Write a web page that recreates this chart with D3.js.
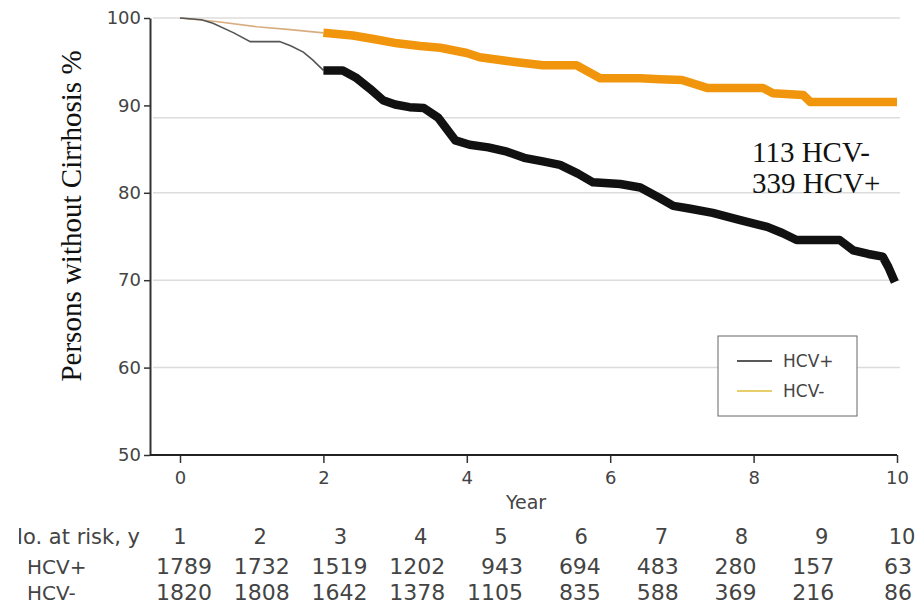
<!DOCTYPE html>
<html>
<head>
<meta charset="utf-8">
<script src="https://cdn.jsdelivr.net/npm/d3@7"></script>
<style>
  body { margin: 0; background: #fff; }
  svg { display: block; }
</style>
</head>
<body>
<svg></svg>
<script>
const w = 922;
const h = 604;

// Kaplan-Meier curves (year, % without cirrhosis)
const hcvPosYears = [0, 0.3, 0.46, 0.75, 0.98, 1.39, 1.55, 1.72, 1.85, 2.0, 2.27, 2.45, 2.65, 2.83, 3.0, 3.2, 3.4, 3.6, 3.84, 4.04, 4.3, 4.56, 4.8, 5.06, 5.3, 5.55, 5.76, 6.14, 6.42, 6.69, 6.88, 7.1, 7.43, 7.8, 8.19, 8.4, 8.6, 9.2, 9.39, 9.6, 9.8, 9.88, 9.97];
const hcvPosSurv = [100, 99.8, 99.4, 98.3, 97.3, 97.3, 96.8, 96.1, 95.2, 94.0, 94.0, 93.2, 91.9, 90.6, 90.1, 89.8, 89.7, 88.6, 86.0, 85.5, 85.2, 84.7, 84.0, 83.6, 83.2, 82.2, 81.2, 81.0, 80.6, 79.4, 78.5, 78.2, 77.7, 76.9, 76.1, 75.4, 74.6, 74.6, 73.4, 73.0, 72.7, 71.5, 69.8];
const hcvNegYears = [0, 0.5, 1.07, 1.5, 2.0, 2.41, 2.7, 3.03, 3.35, 3.63, 4.0, 4.18, 4.64, 5.06, 5.53, 5.86, 6.42, 6.69, 7.0, 7.35, 8.13, 8.27, 8.69, 8.79, 10.0];
const hcvNegSurv = [100, 99.6, 99.0, 98.7, 98.3, 98.0, 97.6, 97.1, 96.8, 96.6, 96.0, 95.5, 95.0, 94.6, 94.6, 93.1, 93.1, 93.0, 92.9, 92.0, 92.0, 91.4, 91.2, 90.4, 90.4];
const thinUntil = 2; // curves drawn thin before this year

const yTicks = [50, 60, 70, 80, 90, 100];
const gridValues = [100, 88.6, 80, 70, 60];
const xTicks = [0, 2, 4, 6, 8, 10];

// number at risk table
const riskYears = [1, 2, 3, 4, 5, 6, 7, 8, 9, 10];
const riskPos = [1789, 1732, 1519, 1202, 943, 694, 483, 280, 157, 63];
const riskNeg = [1820, 1808, 1642, 1378, 1105, 835, 588, 369, 216, 86];

const annotations = ['113 HCV-', '339 HCV+'];

const svg = d3.select('svg').attr('width', w).attr('height', h);

const xScale = d3.scaleLinear().domain([0, 10]).range([180, 897]);
const yScale = d3.scaleLinear().domain([50, 100]).range([455, 18]);
const axisLeftX = 150;

// gridlines
svg.append('g')
    .selectAll('line')
    .data(gridValues)
    .enter()
    .append('line')
    .attr('x1', axisLeftX + 3)
    .attr('x2', 900)
    .attr('y1', (d) => yScale(d))
    .attr('y2', (d) => yScale(d))
    .attr('stroke', '#dcdcdc')
    .attr('stroke-width', 1.5);

// axes
const yAxis = d3.axisLeft(yScale).tickValues(yTicks).tickSize(6).tickSizeOuter(0).tickPadding(3);
const xAxis = d3.axisBottom(xScale).tickValues(xTicks).tickSize(8).tickSizeOuter(0).tickPadding(8);

const gy = svg.append('g')
    .attr('transform', 'translate(' + axisLeftX + ',0)')
    .call(yAxis);
const gx = svg.append('g')
    .attr('transform', 'translate(0,' + yScale(50) + ')')
    .call(xAxis);

gx.select('.domain').remove();
svg.append('line')
    .attr('x1', axisLeftX)
    .attr('x2', xScale(10))
    .attr('y1', yScale(50))
    .attr('y2', yScale(50))
    .attr('stroke', '#222')
    .attr('stroke-width', 2);

[gy, gx].forEach((g) => {
    g.selectAll('.domain').attr('stroke', '#333').attr('stroke-width', 2);
    g.selectAll('.tick line').attr('stroke', '#333').attr('stroke-width', 1.5);
    g.selectAll('.tick text')
        .attr('fill', '#444')
        .style('font-family', 'DejaVu Sans')
        .style('font-size', '18px');
});

svg.append('text')
    .attr('x', 526)
    .attr('y', 509)
    .attr('text-anchor', 'middle')
    .attr('fill', '#444')
    .style('font-family', 'DejaVu Sans')
    .style('font-size', '19px')
    .text('Year');

svg.append('text')
    .attr('transform', 'translate(81,216) rotate(-90)')
    .attr('text-anchor', 'middle')
    .attr('fill', '#111')
    .style('font-family', 'Liberation Serif')
    .style('font-size', '29px')
    .text('Persons without Cirrhosis %');

// curves
const line = d3.line()
    .x((d) => xScale(d[0]))
    .y((d) => yScale(d[1]));

function drawCurve(years, surv, thinColor, thickColor) {
    const pts = years.map((y, i) => [y, surv[i]]);
    svg.append('path')
        .datum(pts.filter((d) => d[0] <= thinUntil))
        .attr('d', line)
        .attr('fill', 'none')
        .attr('stroke', thinColor)
        .attr('stroke-width', 1.6);
    svg.append('path')
        .datum(pts.filter((d) => d[0] >= thinUntil))
        .attr('d', line)
        .attr('fill', 'none')
        .attr('stroke', thickColor)
        .attr('stroke-width', 8.5)
        .attr('stroke-linejoin', 'round');
}

drawCurve(hcvNegYears, hcvNegSurv, '#d8ae80', '#f0950c');
drawCurve(hcvPosYears, hcvPosSurv, '#555', '#111');

// annotation text
svg.append('g')
    .selectAll('text')
    .data(annotations)
    .enter()
    .append('text')
    .attr('x', 752)
    .attr('y', (d, i) => 162 + i * 31)
    .attr('fill', '#111')
    .style('font-family', 'Liberation Serif')
    .style('font-size', '29px')
    .text((d) => d);

// legend
const legend = svg.append('g');
legend.append('rect')
    .attr('x', 718)
    .attr('y', 336)
    .attr('width', 139)
    .attr('height', 80)
    .attr('fill', '#fff')
    .attr('stroke', '#666')
    .attr('stroke-width', 1);
const legendItems = [
    { label: 'HCV+', color: '#222' },
    { label: 'HCV-', color: '#e0bc3a' }
];
legendItems.forEach((d, i) => {
    const yy = 361 + i * 30;
    legend.append('line')
        .attr('x1', 737).attr('x2', 772)
        .attr('y1', yy).attr('y2', yy)
        .attr('stroke', d.color)
        .attr('stroke-width', 1.5);
    legend.append('text')
        .attr('x', 783)
        .attr('y', yy)
        .attr('dy', '0.35em')
        .attr('fill', '#444')
        .style('font-family', 'DejaVu Sans')
        .style('font-size', '17px')
        .text(d.label);
});

// number at risk table
const colRight = d3.scaleLinear().domain([1, 10]).range([212, 912]);
const colHead = d3.scaleLinear().domain([1, 10]).range([180, 902]);
const tableFont = (sel, size) => sel.attr('fill', '#444')
    .style('font-family', 'DejaVu Sans')
    .style('font-size', (size || 20) + 'px');

svg.append('clipPath').attr('id', 'hdrclip')
    .append('rect').attr('x', 19).attr('y', 515).attr('width', 200).attr('height', 40);

svg.append('text')
    .attr('x', 140)
    .attr('y', 544)
    .attr('text-anchor', 'end')
    .attr('clip-path', 'url(#hdrclip)')
    .call(tableFont, 21)
    .text('No. at risk, y');

svg.append('g')
    .selectAll('text')
    .data(riskYears)
    .enter()
    .append('text')
    .attr('x', (d) => colHead(d))
    .attr('y', 544)
    .attr('text-anchor', 'middle')
    .call(tableFont, 21)
    .text((d) => d);

const rows = [
    { label: 'HCV+', values: riskPos, y: 574 },
    { label: 'HCV-', values: riskNeg, y: 600 }
];
rows.forEach((r) => {
    svg.append('text')
        .attr('x', 27)
        .attr('y', r.y)
        .call(tableFont, 20)
        .text(r.label);
    svg.append('g')
        .selectAll('text')
        .data(r.values)
        .enter()
        .append('text')
        .attr('x', (d, i) => colRight(riskYears[i]))
        .attr('y', r.y)
        .attr('text-anchor', 'end')
        .call(tableFont, 22)
        .text((d) => d);
});
</script>
</body>
</html>
